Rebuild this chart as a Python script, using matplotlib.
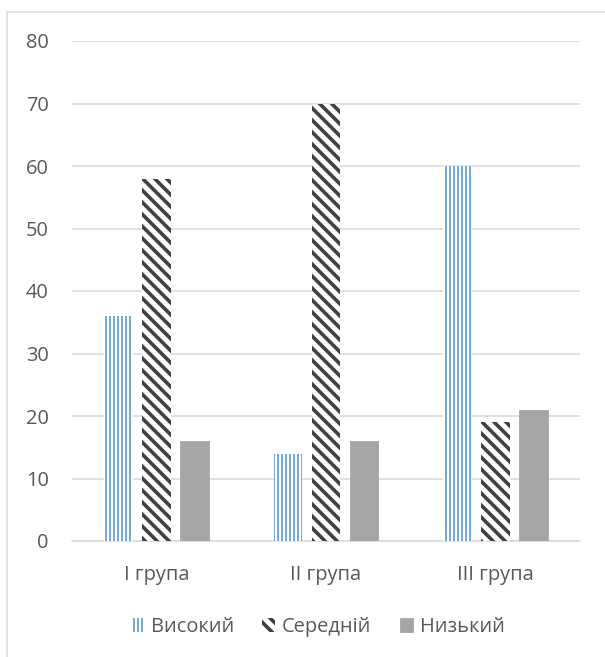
import matplotlib
matplotlib.use("Agg")
import matplotlib.pyplot as plt
from matplotlib.patches import Rectangle
import numpy as np

categories = ["I група", "II група", "III група"]
series_names = ["Високий", "Середній", "Низький"]
high = [36, 14, 60]
medium = [58, 70, 19]
low = [16, 16, 21]
yticks = [0, 10, 20, 30, 40, 50, 60, 70, 80]

# At 72 dpi one point equals one pixel, which keeps hatch spacing compact.
DPI = 72
W, H = 605, 657

plt.rcParams["font.family"] = ["Open Sans", "DejaVu Sans"]
plt.rcParams["hatch.linewidth"] = 1.7

fig = plt.figure(figsize=(W / DPI, H / DPI), dpi=DPI)
ax = fig.add_axes([72 / W, 1 - 541 / H, 508 / W, 500 / H])

x = np.arange(len(categories))
w = 0.17
off = 0.225
text_c = "#595959"
fs = 20
diag = "\\\\"
diag_lw = 3.6

b1 = ax.bar(x - off, high, w, facecolor="white", edgecolor="#5B9BD5",
            hatch="|||", linewidth=0, zorder=3, label=series_names[0])
b2 = ax.bar(x, medium, w, facecolor="white", edgecolor="#404040",
            hatch=diag, linewidth=0, zorder=3, label=series_names[1])
b3 = ax.bar(x + off, low, w, facecolor="#A5A5A5", edgecolor="#A5A5A5",
            linewidth=0.8, zorder=3, label=series_names[2])

for p in b2:
    try:
        p.set_hatch_linewidth(diag_lw)
    except AttributeError:
        pass

ax.set_xlim(-0.5, 2.5)
ax.set_ylim(0, 80)
ax.set_yticks(yticks)
ax.set_xticks(x)
ax.set_xticklabels(categories)
ax.yaxis.grid(True, color="#D9D9D9", linewidth=1.6, zorder=0)
ax.set_axisbelow(True)
for s in ["top", "right", "left"]:
    ax.spines[s].set_visible(False)
ax.spines["bottom"].set_color("#D9D9D9")
ax.spines["bottom"].set_linewidth(1.6)
ax.tick_params(axis="both", length=0, labelsize=fs, labelcolor=text_c)
ax.tick_params(axis="y", pad=23)
ax.tick_params(axis="x", pad=24)

leg = fig.legend(handles=[b1, b2, b3], loc="center", ncol=3,
                 bbox_to_anchor=(0.525, 1 - 627 / H), frameon=False,
                 fontsize=fs, labelcolor=text_c, handlelength=0.65,
                 handleheight=0.65, handletextpad=0.35, columnspacing=1.4)
for h in leg.legend_handles:
    try:
        if h.get_hatch() == diag:
            h.set_hatch_linewidth(diag_lw)
    except AttributeError:
        pass

fig.patches.append(Rectangle((7 / W, -0.05), 1.2, 1 - 12 / H + 0.05,
                             transform=fig.transFigure, fill=False,
                             edgecolor="#D9D9D9", linewidth=1.5))

fig.savefig("out.png", dpi=DPI)
